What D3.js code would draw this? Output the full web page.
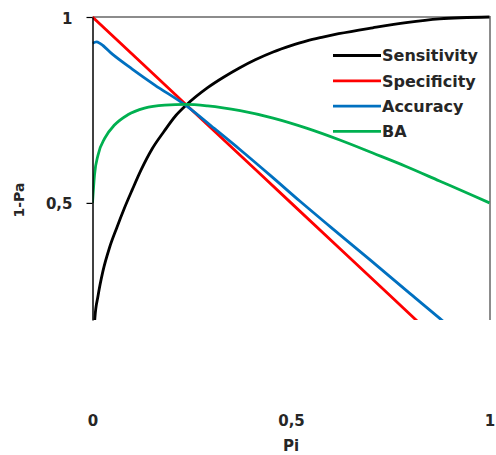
<!DOCTYPE html>
<html>
<head>
<meta charset="utf-8">
<script src="https://cdn.jsdelivr.net/npm/d3@7"></script>
<style>
  body { margin: 0; background: #fff; }
  svg text { font-family: "DejaVu Sans", sans-serif; font-weight: bold; fill: #262626; }
</style>
</head>
<body>
<svg id="chart" width="496" height="455"></svg>
<script>
// values, as [Pi, value]
var sensitivity = [
  [0, 0], [0.002, 0.11], [0.006, 0.19], [0.014, 0.25], [0.026, 0.315], [0.043, 0.38],
  [0.06, 0.43], [0.08, 0.485], [0.1, 0.535], [0.123, 0.59], [0.15, 0.645], [0.18, 0.692],
  [0.21, 0.735], [0.235, 0.762], [0.29, 0.81], [0.33, 0.838], [0.37, 0.863], [0.41, 0.885],
  [0.455, 0.906], [0.5, 0.923], [0.54, 0.936], [0.58, 0.946], [0.62, 0.955], [0.706, 0.971],
  [0.79, 0.985], [0.874, 0.995], [1, 1]
];
var specificity = [[0, 1], [0.25, 0.75], [0.5, 0.5], [0.75, 0.25], [1, 0]];
var accuracy = [
  [0, 0.929], [0.01, 0.933], [0.02, 0.928], [0.05, 0.9], [0.1, 0.86], [0.157, 0.817],
  [0.235, 0.762], [0.3, 0.706], [0.372, 0.643], [0.45, 0.572], [0.522, 0.505], [0.6, 0.435],
  [0.7, 0.346], [0.8, 0.256], [0.874, 0.19], [0.95, 0.12]
];
var balancedAcc = [
  [0, 0.5], [0.005, 0.575], [0.014, 0.629], [0.031, 0.674], [0.056, 0.71], [0.089, 0.737],
  [0.131, 0.755], [0.182, 0.763], [0.235, 0.765], [0.29, 0.761], [0.372, 0.748], [0.455, 0.728],
  [0.539, 0.701], [0.623, 0.669], [0.706, 0.634], [0.79, 0.598], [0.874, 0.559], [0.958, 0.52], [1, 0.5]
];
var seriesNames = ["Sensitivity", "Specificity", "Accuracy", "BA"];
var seriesColors = ["#000000", "#ff0000", "#0070c0", "#00b050"];
var xTicks = [0, 0.5, 1];
var yTicks = [0.5, 1];

// plot box (window.top is reserved, so no "top" here)
var plotLeft = 92.5, plotRight = 489.5, plotTop = 17, plotBottom = 320;

var svg = d3.select("#chart");
var x = d3.scaleLinear().domain([0, 1]).range([plotLeft, plotRight]);
var y = d3.scaleLinear().domain([0.185, 1]).range([plotBottom, plotTop]);

var fmt = d3.formatLocale({decimal: ",", thousands: ".", grouping: [3], currency: ["", ""]}).format("~g");

svg.append("clipPath").attr("id", "plotclip")
  .append("rect")
  .attr("x", plotLeft).attr("y", plotTop - 2)
  .attr("width", plotRight - plotLeft + 2).attr("height", plotBottom - plotTop + 2);

// border top/right
svg.append("path")
  .attr("d", "M" + plotLeft + "," + plotTop + "H" + (plotRight + 0.5) + "V" + plotBottom)
  .attr("fill", "none").attr("stroke", "#8c8c8c").attr("stroke-width", 2);

var line = d3.line()
  .x(function(d) { return x(d[0]); })
  .y(function(d) { return y(d[1]); })
  .curve(d3.curveMonotoneX);

var allSeries = [sensitivity, specificity, accuracy, balancedAcc];
svg.append("g").attr("clip-path", "url(#plotclip)")
  .selectAll("path")
  .data(allSeries)
  .enter()
  .append("path")
  .attr("d", line)
  .attr("fill", "none")
  .attr("stroke", function(d, i) { return seriesColors[i]; })
  .attr("stroke-width", 2.8);

// y axis
var yAxis = svg.append("g")
  .attr("transform", "translate(" + plotLeft + ",0)")
  .call(d3.axisLeft(y).tickValues(yTicks).tickSize(6).tickSizeOuter(0).tickPadding(14).tickFormat(fmt));
yAxis.attr("font-family", null).attr("font-size", null);
yAxis.select(".domain").attr("stroke", "#000").attr("stroke-width", 1.5);
yAxis.selectAll(".tick line").attr("stroke", "#000").attr("stroke-width", 1.2);
yAxis.selectAll(".tick text").style("font-size", "15px").attr("dy", "0.4em").attr("fill", "#262626");

// x axis labels (no axis line visible)
var xAxis = svg.append("g")
  .attr("transform", "translate(0,412)")
  .call(d3.axisBottom(x).tickValues(xTicks).tickSize(0).tickPadding(3).tickFormat(fmt));
xAxis.attr("font-family", null).attr("font-size", null);
xAxis.select(".domain").remove();
xAxis.selectAll(".tick text").style("font-size", "15px").attr("fill", "#262626");

// axis titles
svg.append("text")
  .attr("transform", "translate(24,200) rotate(-90)")
  .attr("text-anchor", "middle")
  .style("font-size", "14px")
  .text("1-Pa");
svg.append("text")
  .attr("x", x(0.5)).attr("y", 451)
  .attr("text-anchor", "middle")
  .style("font-size", "15px")
  .text("Pi");

// legend
var legend = svg.append("g").selectAll("g")
  .data(seriesNames)
  .enter()
  .append("g")
  .attr("transform", function(d, i) { return "translate(333," + (55.5 + i * 25.3) + ")"; });
legend.append("line")
  .attr("x1", 0).attr("x2", 48)
  .attr("stroke", function(d, i) { return seriesColors[i]; })
  .attr("stroke-width", 2.8);
legend.append("text")
  .attr("x", 49).attr("dy", "0.36em")
  .style("font-size", "16px")
  .text(function(d) { return d; });
</script>
</body>
</html>
